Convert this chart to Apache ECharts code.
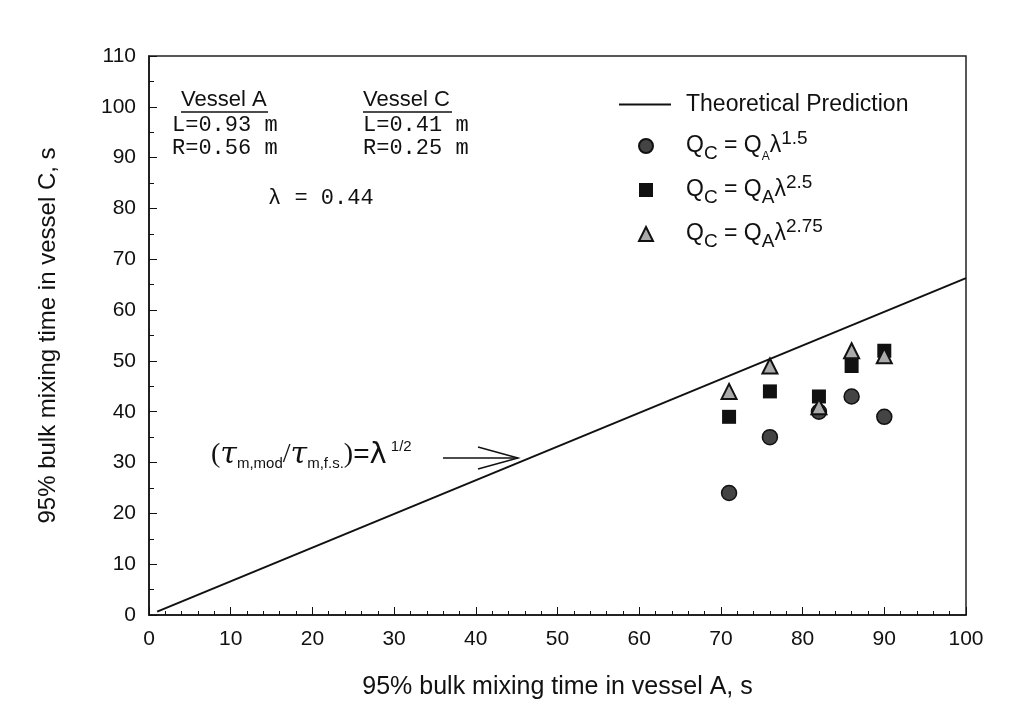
<!DOCTYPE html>
<html>
<head>
<meta charset="utf-8">
<script src="https://cdn.jsdelivr.net/npm/echarts/dist/echarts.min.js"></script>
<style>
  html, body { margin: 0; background: #fff; }
  #main { width: 1032px; height: 713px; }
</style>
</head>
<body>
<div id="main"></div>
<script>
  // values
  var vesselA = [71, 76, 82, 86, 90]
  var exp15 = [24, 35, 40, 43, 39]
  var exp25 = [39, 44, 43, 49, 52]
  var exp275 = [44, 49, 41, 52, 51]
  var theoryX = [1, 100]
  var theoryY = [0.66, 66.3]
  var seriesNames = ['Theoretical Prediction', 'QC = QAλ1.5', 'QC = QAλ2.5', 'QC = QAλ2.75']
  var legendLabels = [
    '{t|Theoretical Prediction}',
    '{q|Q}{sb|C}{m| = Q}{sa|A}{m|λ}{sp|1.5}',
    '{q|Q}{sb|C}{m| = Q}{sb|A}{m|λ}{sp|2.5}',
    '{q|Q}{sb|C}{m| = Q}{sb|A}{m|λ}{sp|2.75}'
  ]

  var sans = "'Liberation Sans', Arial, sans-serif"
  var mono = "'Liberation Mono', 'Courier New', monospace"

  function zip(xs, ys) {
    return xs.map(function (x, i) { return [x, ys[i]] })
  }

  function legendFormatter(name) {
    return legendLabels[seriesNames.indexOf(name)]
  }

  function legendRich(lead) {
    return {
      t: { fontSize: 23, lineHeight: 34, padding: [0, 0, 0, lead], fontFamily: sans, color: '#111' },
      q: { fontSize: 23, lineHeight: 34, padding: [0, 0, 0, lead], fontFamily: sans, color: '#111' },
      m: { fontSize: 23, lineHeight: 34, fontFamily: sans, color: '#111' },
      sb: { fontSize: 19, lineHeight: 22, verticalAlign: 'bottom', fontFamily: sans, color: '#111' },
      sa: { fontSize: 12, lineHeight: 20, verticalAlign: 'bottom', fontFamily: sans, color: '#111' },
      sp: { fontSize: 19, lineHeight: 14, verticalAlign: 'top', fontFamily: sans, color: '#111' }
    }
  }

  var chart = echarts.init(document.getElementById('main'))

  chart.setOption({
    animation: false,
    backgroundColor: '#fff',
    grid: {
      left: 149, right: 66, top: 56, bottom: 98,
      show: true,
      borderColor: '#222',
      borderWidth: 1.5
    },
    legend: [
      {
        // line entry
        orient: 'vertical',
        left: 618,
        top: 93,
        padding: 0,
        itemWidth: 52,
        itemHeight: 14,
        selectedMode: false,
        data: [{ name: seriesNames[0], itemStyle: { opacity: 0 } }],
        formatter: legendFormatter,
        textStyle: { rich: legendRich(10) }
      },
      {
        // marker entries
        orient: 'vertical',
        left: 638,
        top: 129,
        padding: 0,
        itemWidth: 14,
        itemHeight: 14,
        itemGap: 10,
        selectedMode: false,
        data: seriesNames.slice(1),
        formatter: legendFormatter,
        textStyle: { rich: legendRich(28) }
      }
    ],
    xAxis: {
      type: 'value',
      min: 0,
      max: 100,
      interval: 10,
      name: '95% bulk mixing time in vessel A, s',
      nameLocation: 'middle',
      nameGap: 60,
      nameTextStyle: { fontSize: 25, fontFamily: sans, color: '#111' },
      axisLine: { lineStyle: { color: '#111', width: 1.5 } },
      axisTick: { inside: true, length: 8, lineStyle: { color: '#111' } },
      minorTick: { show: true, splitNumber: 5, length: 4, lineStyle: { color: '#111' } },
      axisLabel: { fontSize: 21, fontFamily: sans, color: '#111', margin: 14 },
      splitLine: { show: false }
    },
    yAxis: {
      type: 'value',
      min: 0,
      max: 110,
      interval: 10,
      name: '95% bulk mixing time in vessel C, s',
      nameLocation: 'middle',
      nameGap: 89,
      nameTextStyle: { fontSize: 24, fontFamily: sans, color: '#111' },
      axisLine: { show: true, lineStyle: { color: '#111', width: 1.5 } },
      axisTick: { show: true, inside: true, length: 8, lineStyle: { color: '#111' } },
      minorTick: { show: true, splitNumber: 2, length: 5, lineStyle: { color: '#111' } },
      axisLabel: { fontSize: 21, fontFamily: sans, color: '#111', margin: 13 },
      splitLine: { show: false }
    },
    series: [
      {
        name: seriesNames[0],
        type: 'line',
        data: zip(theoryX, theoryY),
        symbol: 'none',
        lineStyle: { color: '#111', width: 2 },
        itemStyle: { color: '#111' },
        z: 2
      },
      {
        name: seriesNames[1],
        type: 'scatter',
        data: zip(vesselA, exp15),
        symbol: 'circle',
        symbolSize: 15,
        itemStyle: { color: '#444', borderColor: '#111', borderWidth: 1.5, opacity: 1 },
        z: 3
      },
      {
        name: seriesNames[2],
        type: 'scatter',
        data: zip(vesselA, exp25),
        symbol: 'rect',
        symbolSize: 14,
        itemStyle: { color: '#111', opacity: 1 },
        z: 4
      },
      {
        name: seriesNames[3],
        type: 'scatter',
        data: zip(vesselA, exp275),
        symbol: 'triangle',
        symbolSize: 15,
        itemStyle: { color: '#aaa', borderColor: '#111', borderWidth: 2, opacity: 1 },
        z: 5
      }
    ],
    graphic: [
      // vessel dimensions
      { type: 'text', style: { x: 181, y: 100, text: 'Vessel A', font: '22px ' + sans, fill: '#111', verticalAlign: 'middle' } },
      { type: 'line', shape: { x1: 181, y1: 112, x2: 268, y2: 112 }, style: { stroke: '#111', lineWidth: 1.5 } },
      { type: 'text', style: { x: 172, y: 125, text: 'L=0.93 m', font: '22px ' + mono, fill: '#111', verticalAlign: 'middle' } },
      { type: 'text', style: { x: 172, y: 148, text: 'R=0.56 m', font: '22px ' + mono, fill: '#111', verticalAlign: 'middle' } },
      { type: 'text', style: { x: 363, y: 100, text: 'Vessel C', font: '22px ' + sans, fill: '#111', verticalAlign: 'middle' } },
      { type: 'line', shape: { x1: 363, y1: 112, x2: 452, y2: 112 }, style: { stroke: '#111', lineWidth: 1.5 } },
      { type: 'text', style: { x: 363, y: 125, text: 'L=0.41 m', font: '22px ' + mono, fill: '#111', verticalAlign: 'middle' } },
      { type: 'text', style: { x: 363, y: 148, text: 'R=0.25 m', font: '22px ' + mono, fill: '#111', verticalAlign: 'middle' } },
      { type: 'text', style: { x: 268, y: 198, text: 'λ = 0.44', font: '22px ' + mono, fill: '#111', verticalAlign: 'middle' } },
      // ratio label and arrow
      {
        type: 'text',
        style: {
          x: 211, y: 455,
          verticalAlign: 'middle',
          text: '{p|(}{t|τ}{s|m,mod}{p|/}{t|τ}{s|m,f.s.}{p|)}{e|=}{l|λ}{u| 1/2}',
          fill: '#111',
          rich: {
            p: { fontSize: 28, lineHeight: 32, fontFamily: "'Liberation Serif', serif", fill: '#111' },
            t: { fontSize: 30, lineHeight: 32, fontFamily: "'DejaVu Serif', serif", fontStyle: 'italic', fill: '#111' },
            e: { fontSize: 28, lineHeight: 32, fontFamily: sans, fill: '#111' },
            l: { fontSize: 29, lineHeight: 32, fontFamily: "'DejaVu Sans', sans-serif", fill: '#111' },
            s: { fontSize: 15, lineHeight: 14, verticalAlign: 'bottom', fontFamily: sans, fill: '#111' },
            u: { fontSize: 15, lineHeight: 20, verticalAlign: 'top', fontFamily: sans, fill: '#111' }
          }
        }
      },
      { type: 'polyline', shape: { points: [[443, 458], [518, 458]] }, style: { stroke: '#111', lineWidth: 1.5, fill: null } },
      { type: 'polyline', shape: { points: [[478, 447], [518, 458], [478, 469]] }, style: { stroke: '#111', lineWidth: 1.5, fill: null } }
    ]
  })
</script>
</body>
</html>
